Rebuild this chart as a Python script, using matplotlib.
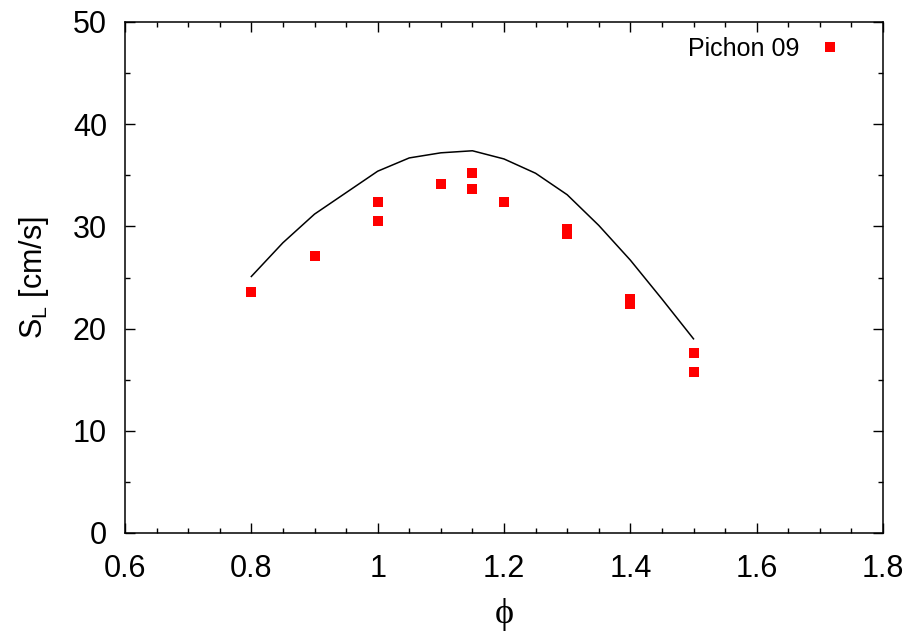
import numpy as np
import matplotlib.pyplot as plt
from matplotlib.ticker import MultipleLocator

# model curve (line)
phi_model = [0.80, 0.85, 0.90, 0.95, 1.00, 1.05, 1.10, 1.15, 1.20, 1.25, 1.30, 1.35, 1.40, 1.45, 1.50]
sl_model = [25.1, 28.4, 31.2, 33.3, 35.4, 36.7, 37.2, 37.4, 36.6, 35.2, 33.1, 30.1, 26.7, 22.9, 19.0]

# Pichon 09 measurements
phi_exp = [0.80, 0.90, 1.00, 1.00, 1.10, 1.15, 1.15, 1.20, 1.30, 1.30, 1.40, 1.40, 1.50, 1.50]
sl_exp = [23.6, 27.1, 32.4, 30.5, 34.1, 35.2, 33.7, 32.4, 29.7, 29.3, 22.9, 22.4, 17.6, 15.8]

plt.rcParams['font.family'] = ['Liberation Sans', 'DejaVu Sans']
plt.rcParams['mathtext.fontset'] = 'custom'
plt.rcParams['mathtext.rm'] = 'Liberation Sans'

fig = plt.figure(figsize=(9.15, 6.35), dpi=100)
ax = fig.add_axes([125/915, 1-533/635, (883-125)/915, (533-22)/635])

ax.plot(phi_model, sl_model, color='black', lw=1.1)
ax.plot(phi_exp, sl_exp, 's', color='red', ms=7.3, mew=0, label='Pichon 09')

ax.set_xlim(0.6, 1.8)
ax.set_ylim(0, 50)
ax.xaxis.set_major_locator(MultipleLocator(0.2))
ax.xaxis.set_minor_locator(MultipleLocator(0.05))
ax.yaxis.set_major_locator(MultipleLocator(10))
ax.yaxis.set_minor_locator(MultipleLocator(5))
ax.tick_params(which='both', direction='in', top=True, right=True, labelsize=22, width=1.0)
ax.tick_params(which='major', length=7)
ax.tick_params(which='minor', length=3.5)
ax.tick_params(axis='x', which='major', pad=15)
ax.tick_params(axis='y', which='major', pad=13)
ax.set_xticklabels([f'{v:g}' for v in ax.get_xticks()])
for s in ax.spines.values():
    s.set_linewidth(1.1)

ax.set_ylabel(r'S$_\mathrm{L}$ [cm/s]', fontsize=22, labelpad=16)
ax.set_xlabel('ϕ', fontsize=26, family=['Liberation Serif', 'DejaVu Serif'], labelpad=10)

ax.legend(loc='upper right', frameon=False, fontsize=18, markerfirst=False,
          handlelength=1.0, handletextpad=0.7, borderaxespad=0.6,
          bbox_to_anchor=(1 - 16/758, 1 + 10/511))

fig.savefig('out.png', dpi=100)
